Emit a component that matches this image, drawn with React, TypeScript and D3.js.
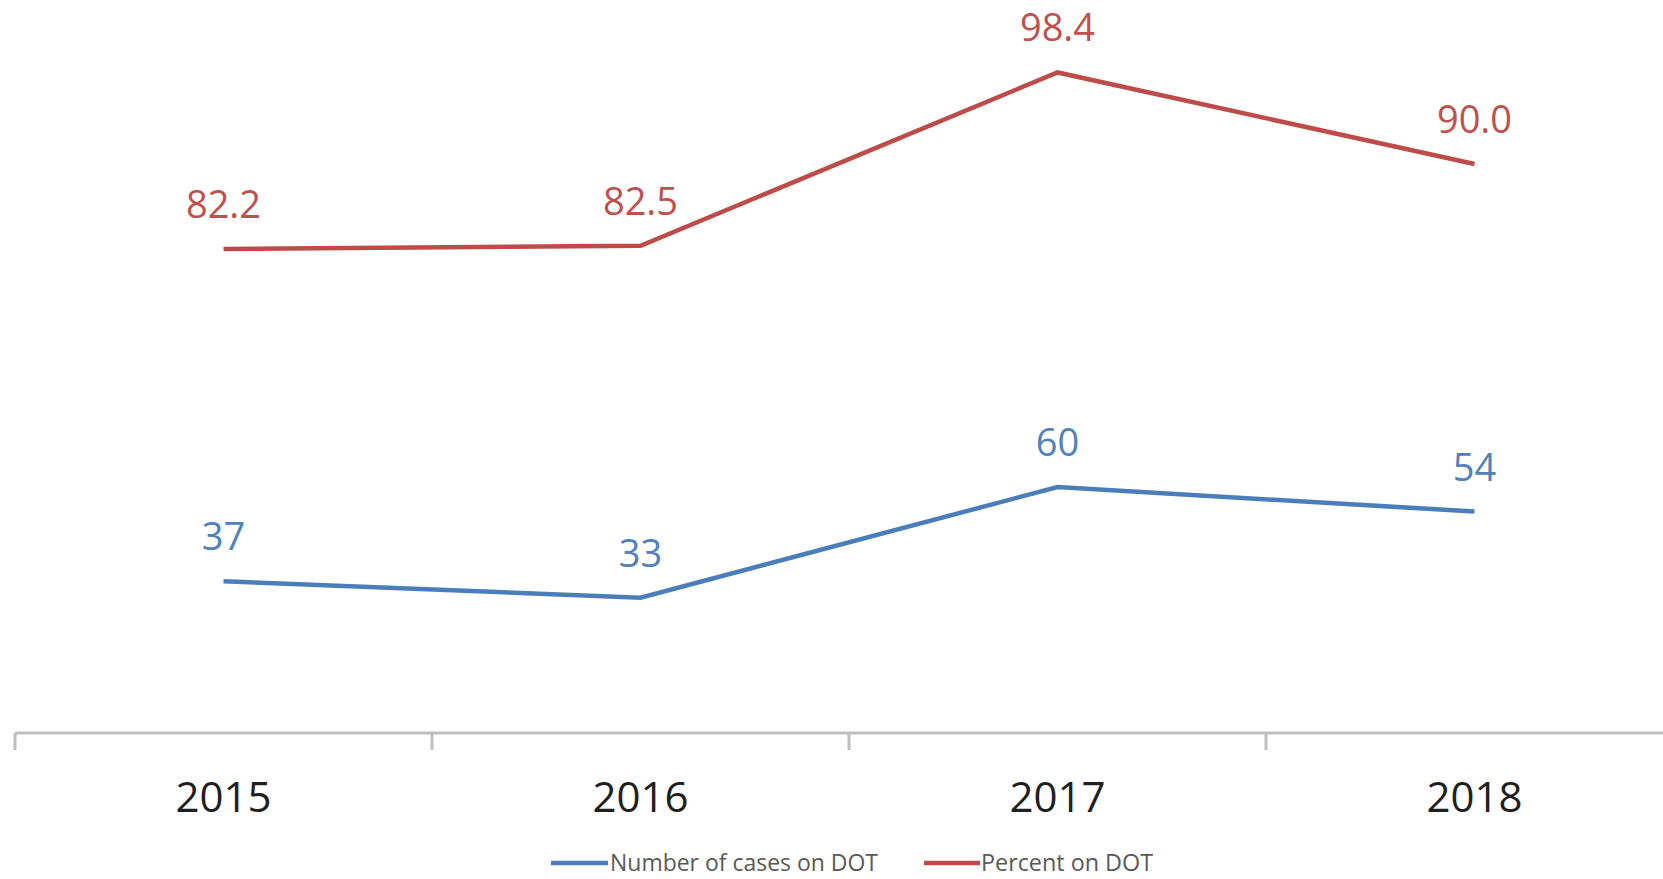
import React from "react";
import { scaleBand, scaleLinear, line } from "d3";

const width = 1663;
const height = 879;

const years = ["2015", "2016", "2017", "2018"];
const casesOnDot = [37, 33, 60, 54];
const percentOnDot = [82.2, 82.5, 98.4, 90.0];

const legendItems = [
  { name: "Number of cases on DOT", color: "#4A7EBB" },
  { name: "Percent on DOT", color: "#BE4B48" },
];

const axisY = 733;
const font = "'Open Sans', 'Liberation Sans', sans-serif";

const App = () => {
  // band axis runs off the right edge like the original plot area
  const xScale = scaleBand<string>().domain(years).range([15, 1683]);
  const xMid = (d: string) => (xScale(d) as number) + xScale.bandwidth() / 2;

  // primary axis for counts, secondary for percent (both hidden)
  const yLeft = scaleLinear().domain([0, 160]).range([axisY, 77]);
  const yRight = scaleLinear().domain([80, 100]).range([273, 55]);

  const casesLine = line<number>()
    .x((_, i) => xMid(years[i]))
    .y((d) => yLeft(d));
  const percentLine = line<number>()
    .x((_, i) => xMid(years[i]))
    .y((d) => yRight(d));

  const ticks = [...years.map((y) => xScale(y) as number), 1683];

  return (
    <svg
      width={width}
      height={height}
      style={{ position: "absolute", left: 0, top: 0, background: "white" }}
    >
      <rect width={width} height={height} fill="white" />

      {/* category axis */}
      <line x1={15} x2={width} y1={axisY} y2={axisY} stroke="#BFBFBF" strokeWidth={3} />
      {ticks.map((t, i) => (
        <line key={i} x1={t} x2={t} y1={axisY} y2={750} stroke="#BFBFBF" strokeWidth={3} />
      ))}
      {years.map((y) => (
        <text
          key={y}
          x={xMid(y)}
          y={812}
          fontSize={42}
          fontFamily={font}
          fill="#1F1F1F"
          textAnchor="middle"
        >
          {y}
        </text>
      ))}

      {/* lines */}
      <path d={casesLine(casesOnDot) ?? ""} fill="none" stroke="#4A7EBB" strokeWidth={4.5} />
      <path d={percentLine(percentOnDot) ?? ""} fill="none" stroke="#BE4B48" strokeWidth={4.5} />

      {/* data labels */}
      {casesOnDot.map((v, i) => (
        <text
          key={"c" + i}
          x={xMid(years[i])}
          y={yLeft(v) - 31}
          fontSize={38}
          fontFamily={font}
          fill="#4F81BD"
          textAnchor="middle"
        >
          {v}
        </text>
      ))}
      {percentOnDot.map((v, i) => (
        <text
          key={"p" + i}
          x={xMid(years[i])}
          y={yRight(v) - 31}
          fontSize={38}
          fontFamily={font}
          fill="#C0504D"
          textAnchor="middle"
        >
          {v.toFixed(1)}
        </text>
      ))}

      {/* legend */}
      <line x1={551} x2={608} y1={863} y2={863} stroke={legendItems[0].color} strokeWidth={4.5} />
      <text
        x={610}
        y={871}
        fontSize={24}
        fontFamily={font}
        fill="#595959"
        textLength={268}
        lengthAdjust="spacingAndGlyphs"
      >
        {legendItems[0].name}
      </text>
      <line x1={924} x2={980} y1={863} y2={863} stroke={legendItems[1].color} strokeWidth={4.5} />
      <text
        x={981}
        y={871}
        fontSize={24}
        fontFamily={font}
        fill="#595959"
        textLength={172}
        lengthAdjust="spacingAndGlyphs"
      >
        {legendItems[1].name}
      </text>
    </svg>
  );
};

export default App;
